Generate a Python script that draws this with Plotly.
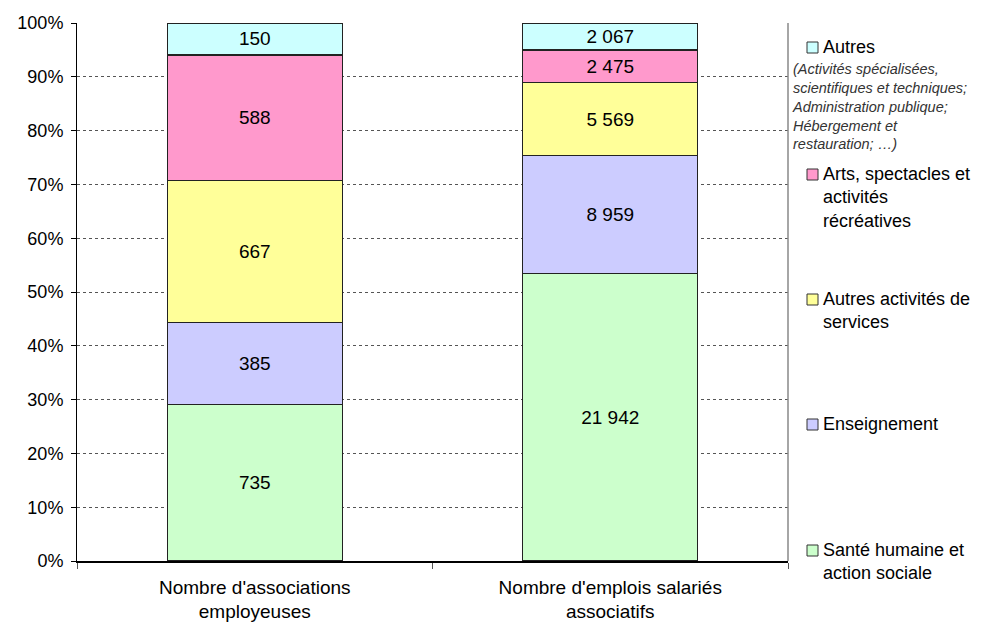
import plotly.graph_objects as go

categories = ["Nombre d'associations<br>employeuses", "Nombre d'emplois salariés<br>associatifs"]
series_names = ["Santé humaine et action sociale", "Enseignement", "Autres activités de services",
                "Arts, spectacles et activités récréatives", "Autres"]
values = {
    "Santé humaine et action sociale": [735, 21942],
    "Enseignement": [385, 8959],
    "Autres activités de services": [667, 5569],
    "Arts, spectacles et activités récréatives": [588, 2475],
    "Autres": [150, 2067],
}
colors = {
    "Santé humaine et action sociale": "#CCFFCC",
    "Enseignement": "#CCCCFF",
    "Autres activités de services": "#FFFF99",
    "Arts, spectacles et activités récréatives": "#FF99CC",
    "Autres": "#CCFFFF",
}
y_ticks = [0, 10, 20, 30, 40, 50, 60, 70, 80, 90, 100]

def fmt(v):
    return f"{v:,}".replace(",", " ")

FONT = "Liberation Sans, Arial, sans-serif"
fig = go.Figure()
for name in series_names:
    fig.add_trace(go.Bar(
        x=categories, y=values[name], name=name,
        marker=dict(color=colors[name], line=dict(color="#222", width=1.3)),
        text=[fmt(v) for v in values[name]], textposition="inside",
        insidetextanchor="middle", textangle=0,
        textfont=dict(family=FONT, size=19, color="#000"),
        showlegend=False,
    ))

L, R, T, B = 77, 994 - 788, 23, 624 - 561
PW, PH = 994 - L - R, 624 - T - B

fig.update_layout(
    barmode="stack", barnorm="percent", bargap=0.508,
    width=994, height=624,
    margin=dict(l=L, r=R, t=T, b=B, autoexpand=False),
    paper_bgcolor="white", plot_bgcolor="white",
    font=dict(family=FONT, size=18, color="#000"),
    uniformtext=dict(mode="show", minsize=16),
)
fig.update_yaxes(
    range=[0, 100], tickvals=y_ticks, ticktext=[f"{t}%" for t in y_ticks],
    showgrid=True, gridcolor="#555", griddash="3px,3px", gridwidth=1,
    showline=True, linecolor="#000", linewidth=1,
    ticks="outside", ticklen=5, tickcolor="#000",
    tickfont=dict(family=FONT, size=18), zeroline=False, ticklabelstandoff=4,
    automargin=False,
)
fig.update_xaxes(
    showline=True, linecolor="#000", linewidth=1.5,
    ticks="outside", tickson="boundaries", ticklen=6, tickcolor="#555",
    tickfont=dict(family=FONT, size=19), ticklabelstandoff=8,
    automargin=False,
)
# right border
fig.add_shape(type="line", xref="x domain", yref="y domain", x0=1, x1=1, y0=0, y1=1,
              line=dict(color="#888", width=1.5))

# Custom legend
legend_items = [
    ("Autres", 47, ["Autres"]),
    ("Arts, spectacles et activités récréatives", 174, ["Arts, spectacles et", "activités", "récréatives"]),
    ("Autres activités de services", 299, ["Autres activités de", "services"]),
    ("Enseignement", 424, ["Enseignement"]),
    ("Santé humaine et action sociale", 550, ["Santé humaine et", "action sociale"]),
]
H = 624

def px(x):
    return (x - L) / PW

def py(y):
    return (H - B - y) / PH

for name, ypix, lines in legend_items:
    fig.add_shape(type="rect", xref="paper", yref="paper",
                  x0=px(807), x1=px(818), y0=py(ypix + 6), y1=py(ypix - 5),
                  fillcolor=colors[name], line=dict(color="#333", width=1))
    fig.add_annotation(xref="paper", yref="paper", x=px(821),
                       y=py(ypix - 12), xanchor="left", yanchor="top",
                       text="<br>".join(lines), showarrow=False, align="left",
                       font=dict(family=FONT, size=18, color="#000"))
sub = "(Activités spécialisées,<br>scientifiques et techniques;<br>Administration publique;<br>Hébergement et<br>restauration; …)"
fig.add_annotation(xref="paper", yref="paper", x=px(790),
                   y=py(59), xanchor="left", yanchor="top",
                   text=f"<i>{sub}</i>", showarrow=False, align="left",
                   font=dict(family=FONT, size=14.5, color="#333"))

fig.write_html("out.html", config={"displayModeBar": False},
               post_script="document.body.style.margin='0';")
